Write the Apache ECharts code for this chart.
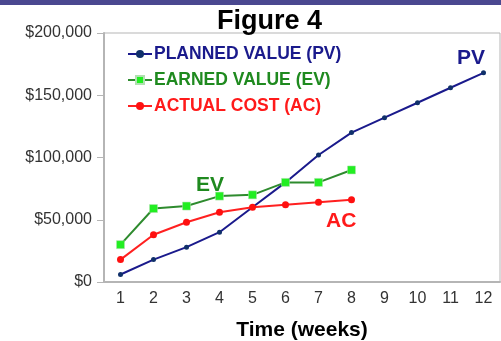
<!DOCTYPE html>
<html><head><meta charset="utf-8">
<script src="https://cdn.jsdelivr.net/npm/echarts@6/dist/echarts.min.js"></script>
<style>html,body{margin:0;padding:0;background:#fff}#c{width:501px;height:341px}</style>
</head><body><div id="c"></div>
<script>
var weeks = ['1','2','3','4','5','6','7','8','9','10','11','12'];
var plannedValue = [6000, 18000, 28000, 40000, 60000, 80000, 102000, 120000, 132000, 144000, 156000, 168000];
var earnedValue = [30000, 59000, 61000, 69000, 70000, 80000, 80000, 90000];
var actualCost = [18000, 38000, 48000, 56000, 60000, 62000, 64000, 66000];
var yTicks = [0, 50000, 100000, 150000, 200000];

var chart = echarts.init(document.getElementById('c'), null, {renderer:'canvas'});
var font = 'Liberation Sans, Arial, sans-serif';
chart.setOption({
  animation:false,
  backgroundColor:'#fff',
  title:{text:'Figure 4', left:212, top:3, textStyle:{fontFamily:font, fontWeight:'bold', fontSize:27, color:'#000'}},
  legend:{left:122, top:39, orient:'vertical', itemGap:6, itemWidth:24, itemHeight:10,
    data:[{name:'PLANNED VALUE (PV)', textStyle:{color:'#1a1a8c'}},{name:'EARNED VALUE (EV)', textStyle:{color:'#1f8a1f'}},{name:'ACTUAL COST (AC)', textStyle:{color:'#ff1a1a'}}],
    textStyle:{fontFamily:font, fontWeight:'bold', fontSize:17.5, lineHeight:20, padding:[0,0,0,-3]}},
  grid:{left:104, right:1, top:33, bottom:59, show:true, borderColor:'#b5b5b5', borderWidth:1, containLabel:false, outerBoundsMode:'none'},
  graphic:[
    {type:'rect', shape:{x:0,y:0,width:501,height:5}, style:{fill:'#4a4890'}},
    {type:'text', left:457, top:48, style:{text:'PV', fill:'#1a1a8c', font:'bold 21px '+font}},
    {type:'text', left:196, top:175, style:{text:'EV', fill:'#1f8a1f', font:'bold 21px '+font}},
    {type:'text', left:326, top:211, style:{text:'AC', fill:'#ff1a1a', font:'bold 21px '+font}}
  ],
  xAxis:{type:'category', data:weeks, boundaryGap:true, name:'Time (weeks)', nameLocation:'middle', nameGap:38,
    nameTextStyle:{fontFamily:font, fontWeight:'bold', fontSize:21, color:'#000', padding:[0,0,0,0]},
    axisLine:{lineStyle:{color:'#b5b5b5', width:2}}, axisTick:{length:6, inside:false, lineStyle:{color:'#b5b5b5'}},
    axisLabel:{fontFamily:font, fontSize:16, color:'#333', margin:9}},
  yAxis:{type:'value', min:0, max:200000, interval:50000,
    axisLine:{show:true, lineStyle:{color:'#b5b5b5', width:2}}, axisTick:{show:true, length:7, lineStyle:{color:'#b5b5b5'}},
    splitLine:{show:false},
    axisLabel:{fontFamily:font, fontSize:16, color:'#333', margin:12, formatter:function(v){return '$'+v.toLocaleString('en-US');}}},
  series:[
    {name:'PLANNED VALUE (PV)', type:'line', data:plannedValue, color:'#1a1a8c', symbol:'circle', symbolSize:5, lineStyle:{width:2, color:'#1a1a8c'}, itemStyle:{color:'#10306a'}},
    {name:'EARNED VALUE (EV)', type:'line', data:earnedValue, color:'#2e8b2e', symbol:'rect', symbolSize:8, lineStyle:{width:2, color:'#2e8b2e'}, itemStyle:{color:'#22ee22', borderColor:'#b0e0b0', borderWidth:0.5}},
    {name:'ACTUAL COST (AC)', type:'line', data:actualCost, color:'#ff2020', symbol:'circle', symbolSize:7, lineStyle:{width:2, color:'#ff2020'}, itemStyle:{color:'#ff1010'}}
  ]
});
</script></body></html>
